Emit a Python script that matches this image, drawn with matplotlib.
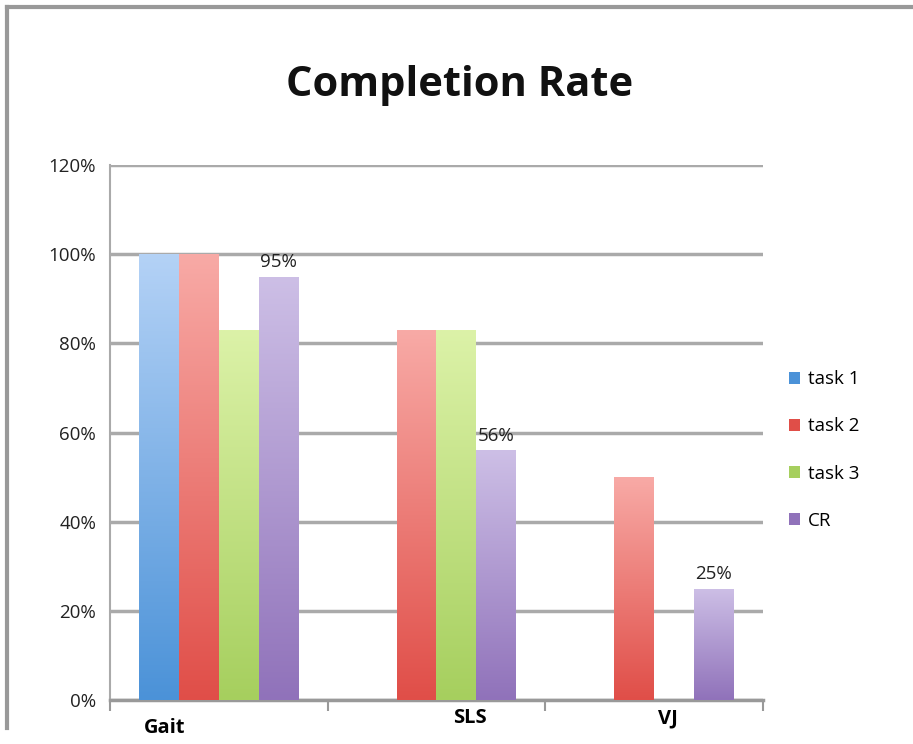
import numpy as np
import matplotlib.pyplot as plt
from matplotlib.colors import LinearSegmentedColormap
from matplotlib.lines import Line2D
from matplotlib.patches import Patch

# Completion rate per test, one list per task
groups = ['Gait', 'SLS', 'VJ']
series = ['task 1', 'task 2', 'task 3', 'CR']
task1 = [1.00, 0.0, 0.0]
task2 = [1.00, 0.83, 0.50]
task3 = [0.83, 0.83, 0.0]
cr = [0.95, 0.56, 0.25]
cr_labels = ['95%', '56%', '25%']
yticks = [0, 0.2, 0.4, 0.6, 0.8, 1.0, 1.2]

# (top colour, bottom colour) for each series
shades = [('#b4d2f6', '#4b92d8'),
          ('#f8aaa6', '#e04e48'),
          ('#dcf2a8', '#a6cf5e'),
          ('#cdbfe6', '#9072ba')]

fig = plt.figure(figsize=(9.13, 7.44), dpi=100)
ax = fig.add_axes([0.1205, 0.059, 0.715, 0.719])

x = np.arange(len(groups))
width = 0.183
values = [task1, task2, task3, cr]
for i, vals in enumerate(values):
    offs = (i - 1.5) * width
    cmap = LinearSegmentedColormap.from_list('g%d' % i, [shades[i][1], shades[i][0]])
    bars = ax.bar(x + offs, vals, width, color=shades[i][1], linewidth=0, zorder=3)
    for b, v in zip(bars, vals):
        if v <= 0:
            continue
        grad = np.linspace(0, 1, 256).reshape(-1, 1)
        im = ax.imshow(grad, cmap=cmap, origin='lower', aspect='auto',
                       extent=[b.get_x(), b.get_x() + b.get_width(), 0, v],
                       zorder=4)
        im.set_clip_path(b)

for xi, v, lab in zip(x, cr, cr_labels):
    ax.text(xi + 1.5 * width, v + 0.012, lab, ha='center', va='bottom',
            fontsize=13.5, color='#222222', family='Open Sans', zorder=5)

ax.set_xlim(-0.5, 2.5)
ax.set_ylim(0, 1.2)
ax.set_yticks(yticks)
ax.set_yticklabels(['%d%%' % round(t * 100) for t in yticks],
                   fontsize=13.5, family='Open Sans', color='#222222')
ax.set_xticks([-0.5, 0.5, 1.5, 2.5])
ax.set_xticklabels([])
ax.tick_params(axis='x', length=8, width=1.5, color='#999999', direction='out')
ax.tick_params(axis='y', length=0, pad=10)
ax.grid(axis='y', color='#aaaaaa', linewidth=2.5, zorder=0)
ax.set_axisbelow(True)
for side in ['top', 'right']:
    ax.spines[side].set_visible(False)
ax.spines['left'].set_color('#aaaaaa')
ax.spines['left'].set_linewidth(1.5)
ax.spines['bottom'].set_color('#999999')
ax.spines['bottom'].set_linewidth(2.5)
ax.set_autoscale_on(False)

# group names under the axis
name_pos = [(165, 728), (470, 718), (668, 718)]
for name, (px, py) in zip(groups, name_pos):
    fig.text(px / 913, 1 - py / 744, name, ha='center', va='center',
             fontsize=14.5, fontweight='bold', family='Open Sans')

fig.text(460 / 913, 1 - 86 / 744, 'Completion Rate', ha='center', va='center',
         fontsize=30, fontweight='bold', family='Open Sans', color='#111111')

handles = [Patch(facecolor=s[1], edgecolor='none') for s in shades]
leg = fig.legend(handles, series, loc='center left',
                 bbox_to_anchor=(772 / 913, 1 - 450 / 744), frameon=False,
                 handlelength=0.6, handleheight=0.6,
                 handletextpad=0.4, labelspacing=1.55,
                 prop={'family': 'Open Sans', 'size': 13.5})

# grey frame along the top and left edges
fig.add_artist(Line2D([7 / 913, 1], [1 - 7 / 744, 1 - 7 / 744],
                      color='#999999', linewidth=3, transform=fig.transFigure))
fig.add_artist(Line2D([7 / 913, 7 / 913], [1 - 7 / 744, 1 - 728 / 744],
                      color='#999999', linewidth=3, transform=fig.transFigure))

fig.savefig('out.png', dpi=100)
